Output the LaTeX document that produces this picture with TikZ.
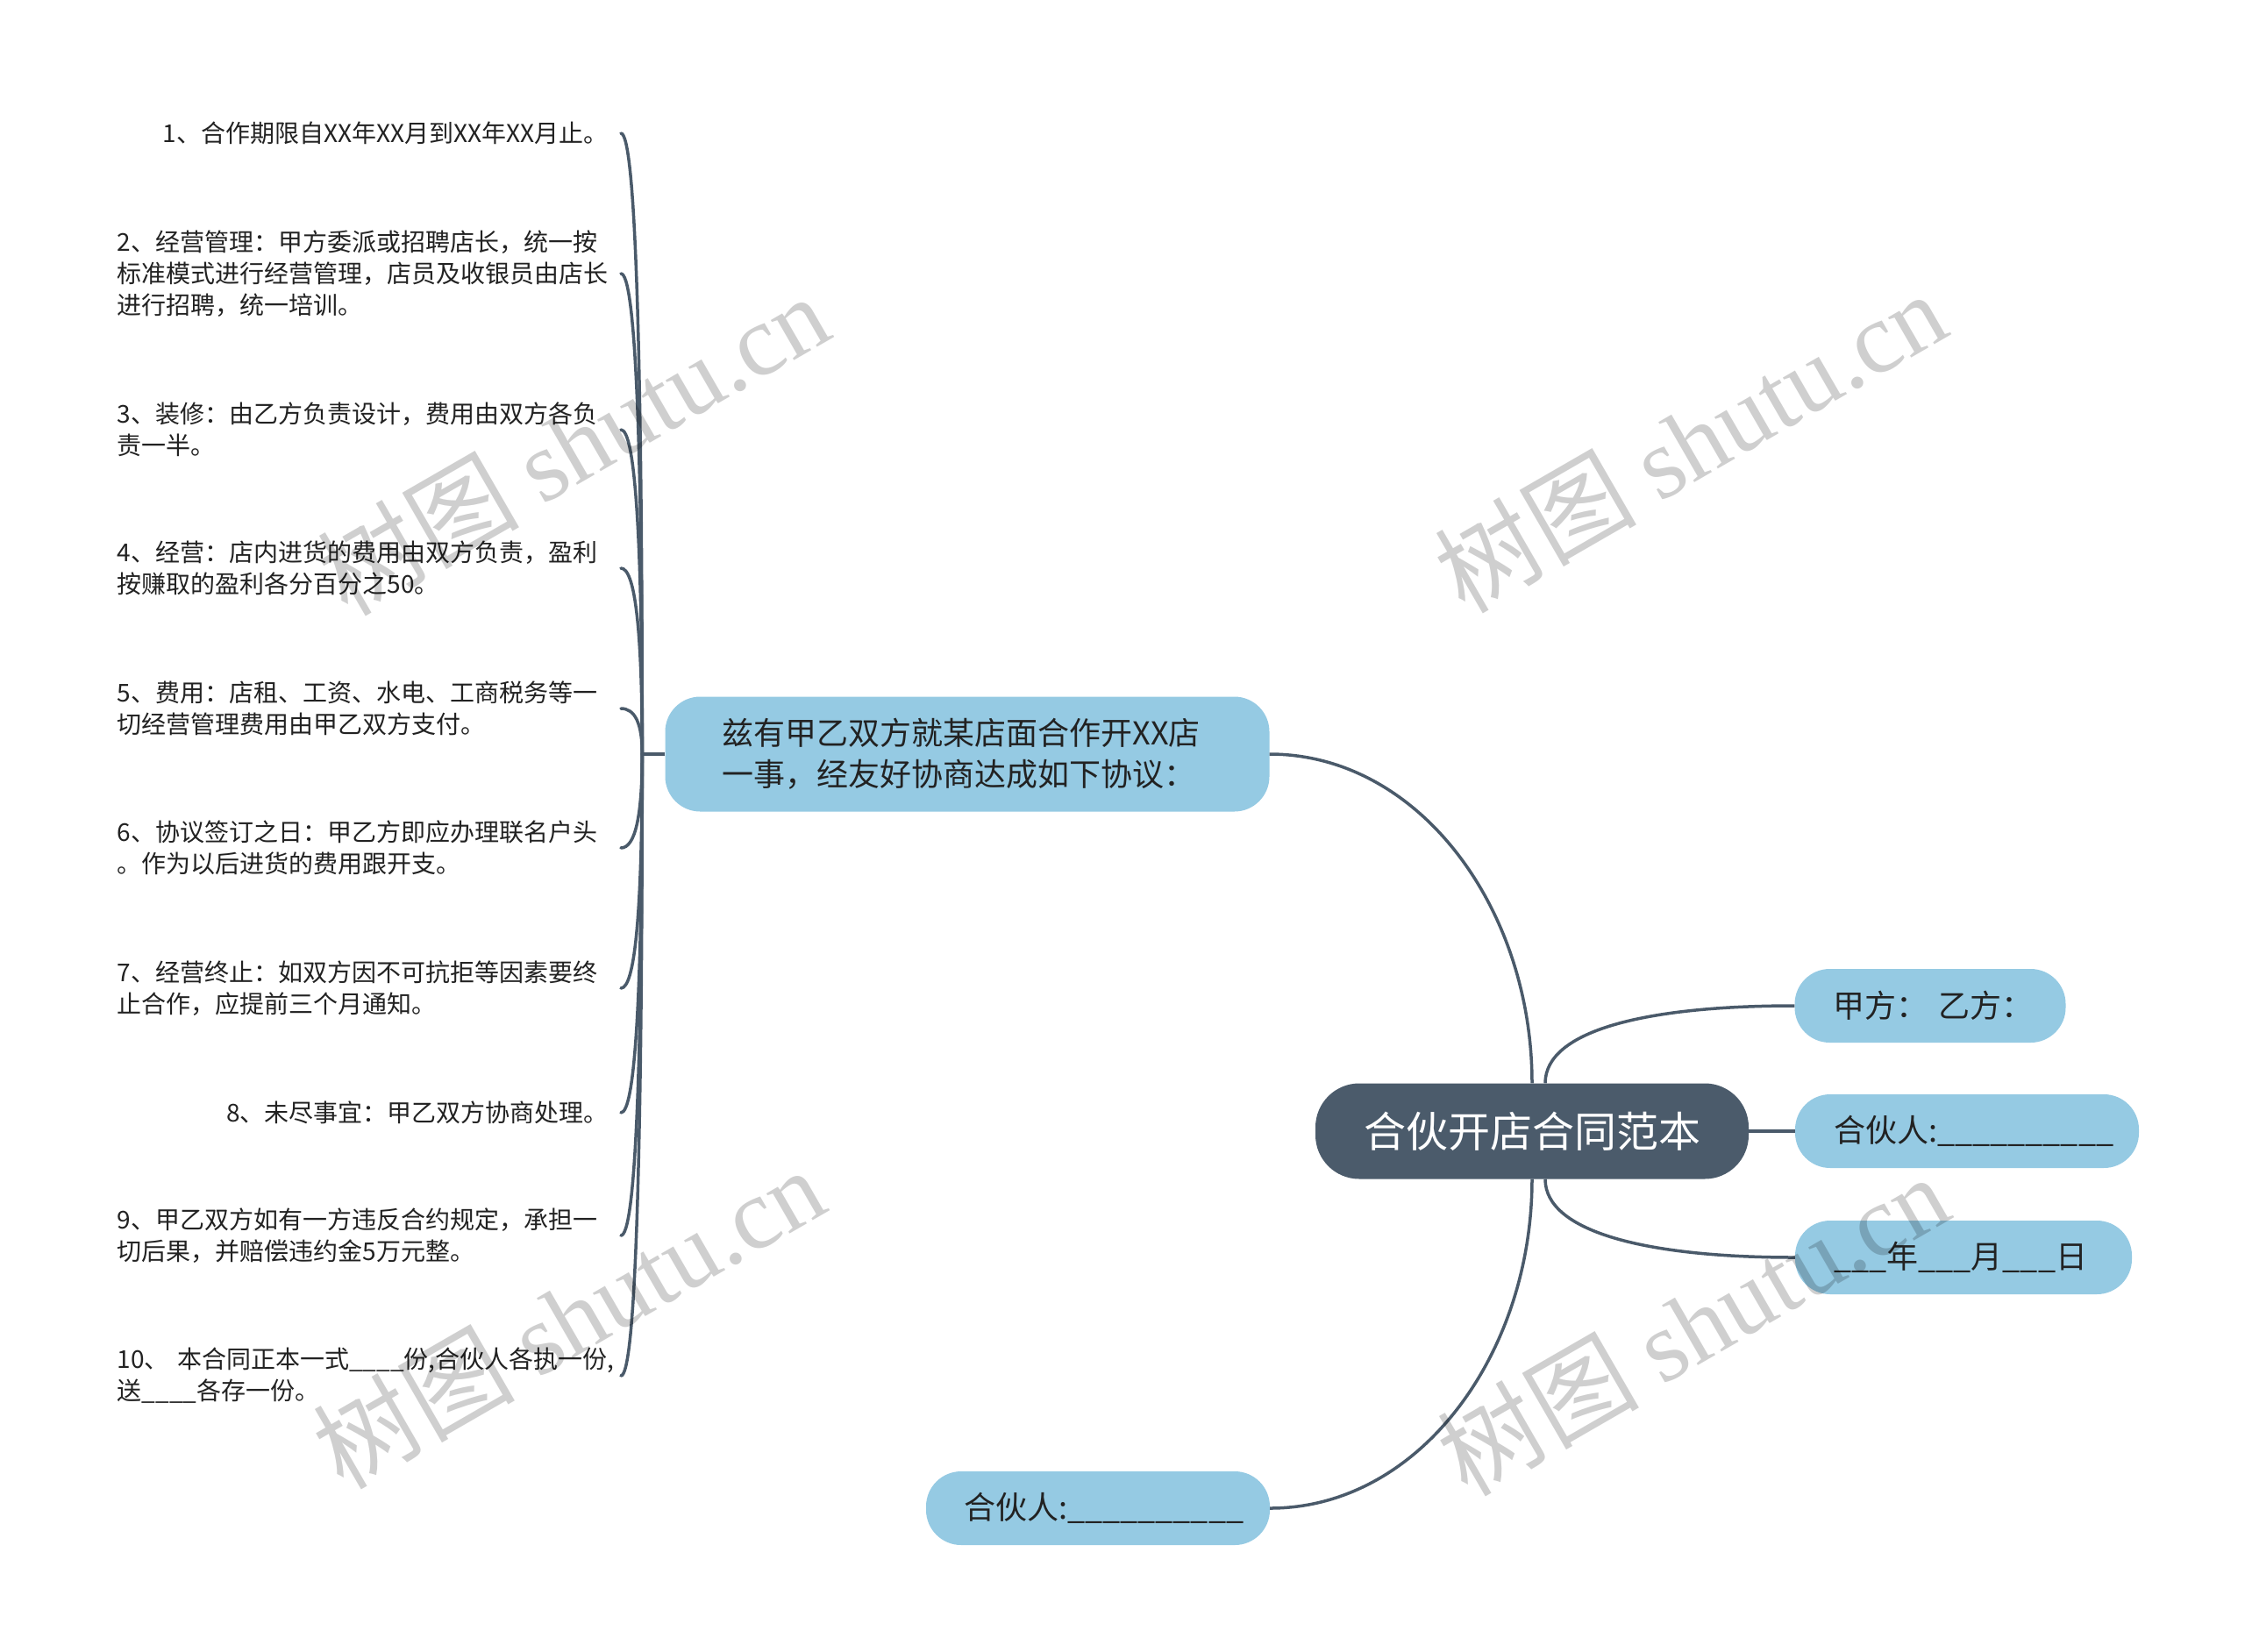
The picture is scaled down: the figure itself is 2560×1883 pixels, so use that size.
\documentclass[tikz,border=0pt]{standalone}
\usepackage{fontspec}
\setmainfont{Noto Sans CJK SC}
\newfontfamily\wmlatin{Liberation Serif}
\usetikzlibrary{calc}
\definecolor{linec}{HTML}{4A5A6A}
\definecolor{rootc}{HTML}{4B5B6B}
\definecolor{bluec}{HTML}{95CAE3}
\definecolor{txtc}{HTML}{222222}
\begin{document}
\begin{tikzpicture}[x=1pt,y=-1pt,
  conn/.style={draw=linec,line width=3.5pt},
  leaf/.style={anchor=east,align=left,inner sep=0pt,text=txtc,font=\fontsize{28}{36}\selectfont},
  leafw/.style={leaf,text width=558pt},
  bnode/.style={fill=bluec,text=txtc,rounded corners=40pt,inner ysep=0pt,align=left,font=\fontsize{36}{47}\selectfont},
  rootnode/.style={fill=rootc,text=white,rounded corners=50pt,inner sep=0pt,font=\fontsize{48}{56}\selectfont},
  wm/.style={rotate=30,text=black,opacity=0.19,font=\fontsize{115}{130}\selectfont}
]
\useasboundingbox (0,0) rectangle (2560,1883);
\fill[white] (0,0) rectangle (2560,1883);

% root and main nodes
\node[rootnode,minimum width=494pt,minimum height=109pt] (r) at (1747,1290) {合伙开店合同范本};
\node[bnode,minimum width=689pt,minimum height=131pt,inner xsep=65pt,text width=559pt] (m) at (1103,860)
  {兹有甲乙双方就某店面合作开XX店\\一事，经友好协商达成如下协议：};
\node[bnode,minimum width=309pt,minimum height=84pt,inner xsep=44pt,text width=221pt] (p1) at (2201,1147)
  {\mbox{甲方：~乙方：}};
\node[bnode,minimum width=392pt,minimum height=84pt,inner xsep=44pt,text width=304pt] (p2) at (2243,1290)
  {\mbox{合伙人:\_\_\_\_\_\_\_\_\_\_}};
\node[bnode,minimum width=384pt,minimum height=84pt,inner xsep=44pt,text width=296pt] (p3) at (2239,1434)
  {\mbox{\_\_\_年\_\_\_月\_\_\_日}};
\node[bnode,minimum width=392pt,minimum height=84pt,inner xsep=43pt,text width=306pt] (p4) at (1252,1720)
  {\mbox{合伙人:\_\_\_\_\_\_\_\_\_\_}};

% leaf texts
\node[leaf] (l1) at (694,152) {1、合作期限自XX年XX月到XX年XX月止。};
\node[leafw] (l2) at (692,312) {2、经营管理：甲方委派或招聘店长，统一按\\标准模式进行经营管理，店员及收银员由店长\\进行招聘，统一培训。};
\node[leafw] (l3) at (692,490) {3、装修：由乙方负责设计，费用由双方各负\\责一半。};
\node[leafw] (l4) at (692,648) {4、经营：店内进货的费用由双方负责，盈利\\按赚取的盈利各分百分之50。};
\node[leafw] (l5) at (692,808) {5、费用：店租、工资、水电、工商税务等一\\切经营管理费用由甲乙双方支付。};
\node[leafw] (l6) at (692,967) {6、协议签订之日：甲乙方即应办理联名户头\\。作为以后进货的费用跟开支。};
\node[leafw] (l7) at (692,1127) {7、经营终止：如双方因不可抗拒等因素要终\\止合作，应提前三个月通知。};
\node[leaf] (l8) at (694,1269) {8、未尽事宜：甲乙双方协商处理。};
\node[leafw] (l9) at (692,1409) {9、甲乙双方如有一方违反合约规定，承担一\\切后果，并赔偿违约金5万元整。};
\node[leafw] (l10) at (692,1569) {10、 本合同正本一式\_\_\_\_份,合伙人各执一份,\\送\_\_\_\_各存一份。};

% left connectors
\coordinate (tr) at ($(m.west)+(-26,0)$);
\draw[conn] (m.west) -- (tr);
\foreach \i in {1,...,10}{
  \coordinate (e\i) at (708,0|-l\i.east);
  \coordinate (c\i) at (tr|-e\i);
  \draw[conn,line cap=round] (tr) .. controls ($(tr)!0.667!(c\i)$) and ($(e\i)!0.667!(c\i)$) .. (e\i);
}

% right connectors
\coordinate (rt1) at ($(r.north)+(0,0)$);
\coordinate (rt2) at ($(r.north)+(15,0)$);
\coordinate (rb1) at ($(r.south)+(0,0)$);
\coordinate (rb2) at ($(r.south)+(15,0)$);
\draw[conn] (rt1) .. controls ($(rt1)+(0,-200)$) and ($(m.east)+(170,0)$) .. (m.east);
\draw[conn] (rt2) .. controls ($(rt2)+(0,-60)$) and ($(p1.west)+(-170,0)$) .. (p1.west);
\draw[conn] (r.east) -- (p2.west);
\draw[conn] (rb2) .. controls ($(rb2)+(0,60)$) and ($(p3.west)+(-170,0)$) .. (p3.west);
\draw[conn] (rb1) .. controls ($(rb1)+(0,200)$) and ($(p4.east)+(170,0)$) .. (p4.east);

% watermarks
\node[wm] (w1) at (653,506) {树图 {\wmlatin shutu.cn}};
\node[wm] (w2) at (1927,503) {树图 {\wmlatin shutu.cn}};
\node[wm] (w3) at (648,1502) {树图 {\wmlatin shutu.cn}};
\node[wm] (w4) at (1930,1510) {树图 {\wmlatin shutu.cn}};
\end{tikzpicture}
\end{document}
